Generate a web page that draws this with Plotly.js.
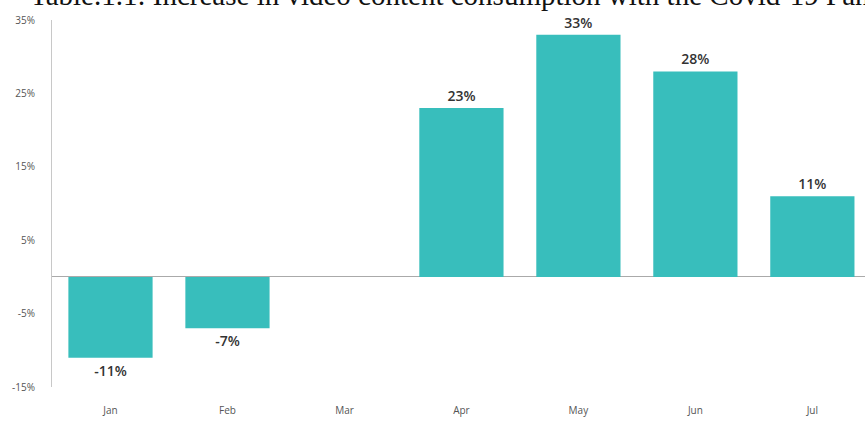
<!DOCTYPE html>
<html>
<head>
<meta charset="utf-8">
<script src="https://cdn.plot.ly/plotly-3.0.1.min.js"></script>
<style>html,body{margin:0;padding:0;background:#fff;overflow:hidden}#chart{width:865px;height:423px}</style>
</head>
<body>
<div id="chart"></div>
<script>
const months = ["Jan", "Feb", "Mar", "Apr", "May", "Jun", "Jul"];
const changePct = [-11, -7, 0, 23, 33, 28, 11];
const yTickVals = [-15, -5, 5, 15, 25, 35];
const yTickText = ["-15%", "-5%", "5%", "15%", "25%", "35%"];
const chartTitle = "Table.1.1: Increase in video content consumption with the Covid-19 Pandemic";

const labels = changePct.map(v => v === 0 ? "" : v + "%");

const trace = {
  type: "bar",
  x: months,
  y: changePct,
  text: labels,
  texttemplate: "%{text}",
  textposition: "outside",
  cliponaxis: false,
  textfont: {family: "Open Sans, sans-serif", size: 14, color: "#333", weight: 600},
  marker: {color: "rgb(56,190,188)"},
  hoverinfo: "skip"
};

const layout = {
  width: 865, height: 423,
  margin: {l: 52, r: 0, t: 20, b: 36},
  paper_bgcolor: "#fff", plot_bgcolor: "#fff",
  bargap: 0.28,
  showlegend: false,
  title: {
    text: chartTitle,
    font: {family: "Liberation Serif, Times New Roman, serif", size: 29, color: "#111"},
    x: 30/865, xanchor: "left", xref: "container",
    y: 1 - 5/423, yanchor: "bottom", yref: "container",
    automargin: false
  },
  xaxis: {
    type: "category",
    range: [-0.5, 6.45],
    showline: false, showgrid: false, zeroline: false,
    ticks: "",
    ticklabelstandoff: 16,
    tickfont: {family: "Liberation Sans Narrow, Open Sans, sans-serif", size: 10, color: "#555"}
  },
  yaxis: {
    range: [-15, 35],
    tickvals: yTickVals,
    ticktext: yTickText,
    showgrid: false,
    showline: true, linecolor: "#c8c8c8", linewidth: 1,
    zeroline: true, zerolinecolor: "#aaa", zerolinewidth: 1,
    ticks: "",
    ticklabelstandoff: 14,
    tickfont: {family: "Liberation Sans Narrow, Open Sans, sans-serif", size: 10, color: "#555"}
  }
};

Plotly.newPlot("chart", [trace], layout, {staticPlot: true, displayModeBar: false});
</script>
</body>
</html>
